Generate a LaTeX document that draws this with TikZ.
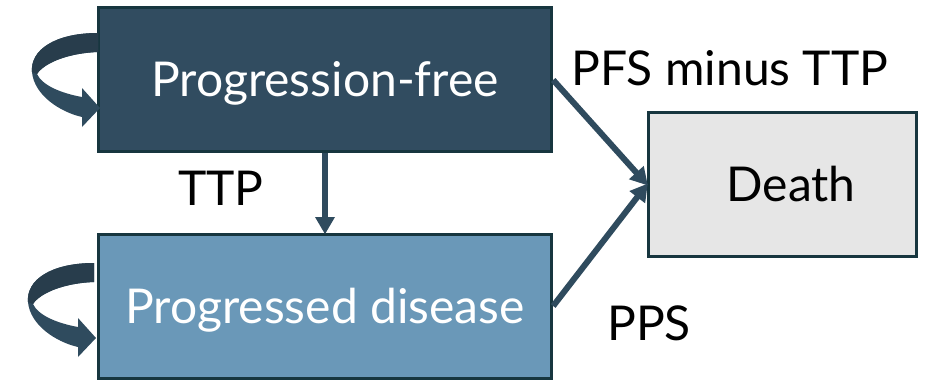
\documentclass[tikz,border=0pt]{standalone}
\usepackage{fontspec}
\setmainfont{Lato}
\usetikzlibrary{arrows.meta}
\definecolor{pfcol}{HTML}{314C60}
\definecolor{pdcol}{HTML}{6A98B8}
\definecolor{dcol}{HTML}{E6E6E6}
\definecolor{edgecol}{HTML}{17363F}
\definecolor{arrcol}{HTML}{2F4B5E}
\definecolor{loopdark}{HTML}{283D4C}
\tikzset{
  statebox/.style={draw=edgecol, line width=2.25pt, minimum width=340pt, minimum height=108pt, inner sep=0pt, text height=26pt, text depth=0pt},
  trans/.style={draw=arrcol, line width=4.5pt, -{Triangle[length=13pt,width=14pt]}, shorten >=-1pt},
  lbl/.style={font=\fontsize{36}{43}\selectfont},
  selfloop/.pic={
    \fill[arrcol] (98,33) .. controls (55,33) and (30,50) .. (32,72)
      .. controls (34,95) and (60,112) .. (82,117) -- (82,127) -- (100,108)
      -- (82,88) -- (82,97) .. controls (60,93) and (42,85) .. (37,74)
      .. controls (45,62) and (70,53) .. (98,52) -- cycle;
    \fill[loopdark] (98,33) .. controls (55,33) and (30,50) .. (32,72)
      -- (37,74) .. controls (45,62) and (70,53) .. (98,52) -- cycle;
  }
}
\begin{document}
\begin{tikzpicture}[x=0.75pt, y=-0.75pt]
  \useasboundingbox (0,0) rectangle (938,380);
  % states
  \node[statebox, fill=pfcol, text=white, lbl] (pf) at (325,79.5) {Progression-free};
  \node[statebox, fill=pdcol, text=white, lbl] (pd) at (325,306.5) {Progressed disease};
  \node[statebox, fill=dcol, minimum width=201pt, lbl] (death) at (782.5,184.5) {\hspace*{13pt}Death};
  % self loops
  \pic at (0,0) {selfloop};
  \pic at (-4,230) {selfloop};
  % transitions
  \draw[trans] (pf.south) -- (pd.north);
  \draw[trans] (pf.east |- 0,80) -- (death.west);
  \draw[trans] (pd.east |- 0,306) -- (death.west);
  % labels
  \node[lbl] (pfsttp) at (730,68) {PFS minus TTP};
  \node[lbl] (ttp) at (221,188) {TTP};
  \node[lbl] (pps) at (649,323) {PPS};
\end{tikzpicture}
\end{document}
